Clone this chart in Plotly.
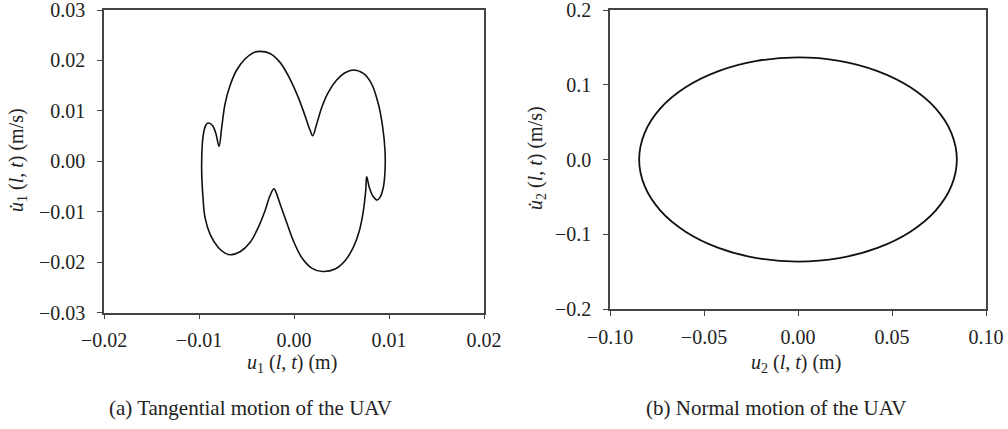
import plotly.graph_objects as go

# (a) Tangential motion: u1 (m) vs du1/dt (m/s)
u1 = [-0.00789, -0.00761, -0.00726, -0.00674, -0.00603, -0.00516, -0.00428, -0.00358,
      -0.00253, -0.00147, -0.00042, 0.00045, 0.00116, 0.00168, 0.00197,
      0.00239, 0.00292, 0.00361, 0.00449, 0.00537, 0.00624,
      0.00730, 0.00818, 0.00888, 0.00934, 0.00958, 0.00958, 0.00940, 0.00905, 0.00877,
      0.00828, 0.00793, 0.00765,
      0.00755, 0.00730, 0.00688, 0.00624, 0.00537, 0.00432, 0.00298,
      0.00186, 0.00081, -0.00007, -0.00077, -0.00140, -0.00182, -0.00211,
      -0.00253, -0.00305, -0.00376, -0.00463, -0.00568, -0.00667,
      -0.00726, -0.00797, -0.00884, -0.00937, -0.00958, -0.00972, -0.00965, -0.00947, -0.00926,
      -0.00902, -0.00856, -0.00821, -0.00789]
du1 = [0.00294, 0.00671, 0.01135, 0.01498, 0.01810, 0.02028, 0.02153, 0.02179,
       0.02139, 0.01961, 0.01631, 0.01266, 0.00903, 0.00619, 0.00506,
       0.00738, 0.01067, 0.01365, 0.01611, 0.01756, 0.01810,
       0.01742, 0.01532, 0.01135, 0.00671, 0.00208, -0.00188, -0.00520, -0.00718, -0.00770,
       -0.00684, -0.00520, -0.00308,
       -0.00585, -0.00982, -0.01379, -0.01710, -0.01974, -0.02139, -0.02187,
       -0.02119, -0.01909, -0.01577, -0.01214, -0.00883, -0.00651, -0.00546,
       -0.00685, -0.00982, -0.01313, -0.01611, -0.01796, -0.01855,
       -0.01822, -0.01710, -0.01444, -0.01115, -0.00718, -0.00188, 0.00341, 0.00605, 0.00724,
       0.00758, 0.00704, 0.00540, 0.00294]

# (b) Normal motion: u2 (m) vs du2/dt (m/s)
u2 = [0.0845, 0.0816, 0.0732, 0.0598, 0.0423, 0.0219, 0.0, -0.0219, -0.0423, -0.0598,
      -0.0732, -0.0816, -0.0845, -0.0816, -0.0732, -0.0598, -0.0423, -0.0219, 0.0,
      0.0219, 0.0423, 0.0598, 0.0732, 0.0816, 0.0845]
du2 = [0.0, 0.0354, 0.0683, 0.0965, 0.1182, 0.1319, 0.1365, 0.1319, 0.1182, 0.0965,
       0.0683, 0.0354, 0.0, -0.0354, -0.0683, -0.0965, -0.1182, -0.1319, -0.1365,
       -0.1319, -0.1182, -0.0965, -0.0683, -0.0354, 0.0]

x1_ticks = [-0.02, -0.01, 0.00, 0.01, 0.02]
y1_ticks = [-0.03, -0.02, -0.01, 0.00, 0.01, 0.02, 0.03]
x2_ticks = [-0.10, -0.05, 0.00, 0.05, 0.10]
y2_ticks = [-0.2, -0.1, 0.0, 0.1, 0.2]

captions = ["(a) Tangential motion of the UAV", "(b) Normal motion of the UAV"]

FONT = "Liberation Serif"
AX = "#444444"
EPS = 1e-9

fig = go.Figure()
fig.add_trace(go.Scatter(x=u1, y=du1, mode="lines", xaxis="x", yaxis="y",
                         line=dict(color="#111111", width=1.6, shape="spline", smoothing=1.0),
                         showlegend=False, hoverinfo="skip"))
fig.add_trace(go.Scatter(x=u2, y=du2, mode="lines", xaxis="x2", yaxis="y2",
                         line=dict(color="#111111", width=1.8, shape="spline", smoothing=1.0),
                         showlegend=False, hoverinfo="skip"))

common = dict(showgrid=False, zeroline=False, showline=True, linecolor=AX, linewidth=1.5,
              mirror=True, ticks="outside", ticklen=5, tickwidth=1.2, tickcolor=AX,
              automargin=False, ticklabeloverflow="allow",
              tickfont=dict(family=FONT, size=20, color="#222222"))
xs = dict(ticklabelstandoff=4, **common)
ys = dict(ticklabelstandoff=8, **common)

fig.update_layout(
    width=1008, height=429, margin=dict(l=0, r=0, t=0, b=0, autoexpand=False),
    paper_bgcolor="white", plot_bgcolor="white",
    xaxis=dict(domain=[104/1008, 484/1008], range=[-0.02 - EPS, 0.02 + EPS], tickvals=x1_ticks,
               tickformat=".2f", anchor="y", **xs),
    yaxis=dict(domain=[1-312.5/429, 1-10/429], range=[-0.03 - EPS, 0.03 + EPS], tickvals=y1_ticks,
               tickformat=".2f", anchor="x", **ys),
    xaxis2=dict(domain=[610/1008, 986/1008], range=[-0.10 - EPS, 0.10 + EPS], tickvals=x2_ticks,
                tickformat=".2f", anchor="y2", **xs),
    yaxis2=dict(domain=[1-309/429, 1-10/429], range=[-0.2 - EPS, 0.2 + EPS], tickvals=y2_ticks,
                tickformat=".1f", anchor="x2", **ys),
)

tf = dict(family=FONT, size=20, color="#222222")
cf = dict(family=FONT, size=21, color="#222222")
ann = [
    dict(x=292/1008, y=1-363/429, text="<i>u</i><sub>1</sub> (<i>l</i>, <i>t</i>) (m)", font=tf),
    dict(x=796/1008, y=1-363/429, text="<i>u</i><sub>2</sub> (<i>l</i>, <i>t</i>) (m)", font=tf),
    dict(x=17/1008, y=1-160/429, text="<i>u\u0307</i><sub>1</sub> (<i>l</i>, <i>t</i>) (m/s)",
         textangle=-90, font=tf),
    dict(x=537/1008, y=1-158/429, text="<i>u\u0307</i><sub>2</sub> (<i>l</i>, <i>t</i>) (m/s)",
         textangle=-90, font=tf),
    dict(x=250/1008, y=1-408/429, text=captions[0], font=cf),
    dict(x=776/1008, y=1-408/429, text=captions[1], font=cf),
]
for a in ann:
    fig.add_annotation(xref="paper", yref="paper", showarrow=False,
                       xanchor="center", yanchor="middle", **a)

fig.write_html("out.html", post_script="document.body.style.margin='0';")
